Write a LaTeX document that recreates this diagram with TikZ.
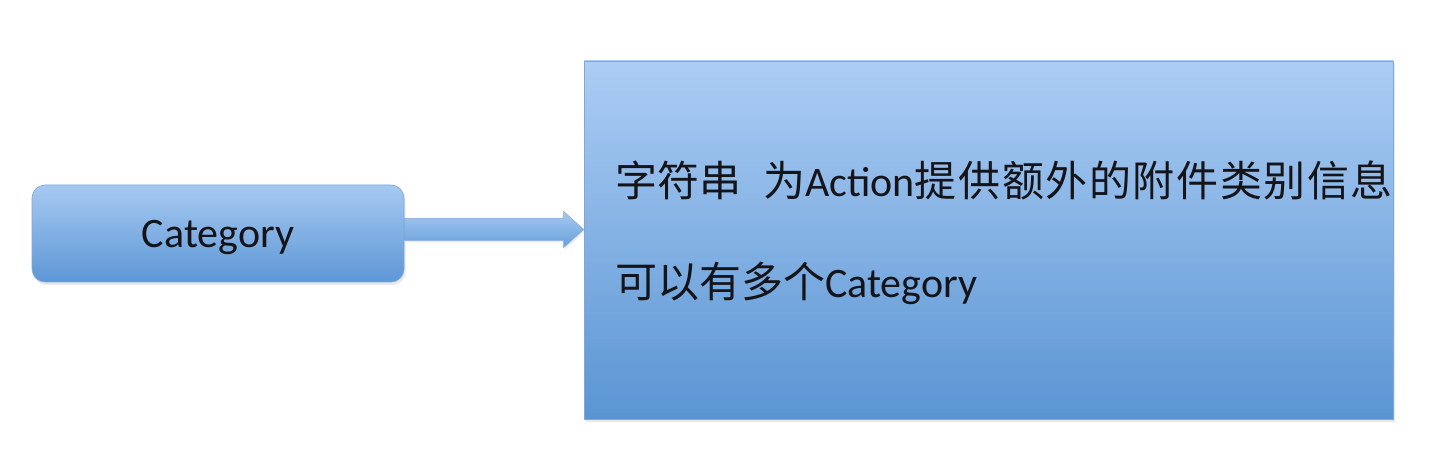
\documentclass[tikz,border=0pt]{standalone}
\usepackage{fontspec}
\setmainfont{Carlito}
\newfontfamily\cjk{Noto Sans CJK SC}
\usetikzlibrary{calc,shadows}
\definecolor{boxtop}{RGB}{172,205,244}
\definecolor{boxbot}{RGB}{90,149,211}
\definecolor{smalltop}{RGB}{166,201,241}
\definecolor{smallbot}{RGB}{93,151,214}
\definecolor{arrtop}{RGB}{166,201,241}
\definecolor{arrbot}{RGB}{104,159,218}
\definecolor{edgecol}{RGB}{125,168,220}
\definecolor{txt}{RGB}{20,20,25}
\tikzset{
  boxshadow/.style={drop shadow={opacity=0.18, shadow xshift=1.5pt, shadow yshift=-3pt}},
  catbox/.style={rectangle, rounded corners=13pt, top color=smalltop, bottom color=smallbot,
    draw=edgecol, line width=0.6pt, boxshadow, minimum width=372pt, minimum height=97pt,
    inner sep=0pt, text=txt, font=\fontsize{42}{50}\selectfont, text depth=0pt},
  infobox/.style={rectangle, top color=boxtop, bottom color=boxbot,
    draw=edgecol, line width=0.6pt, boxshadow, minimum width=809pt, minimum height=358pt, inner sep=0pt},
  infotext/.style={anchor=base west, inner sep=0pt, text=txt, font=\fontsize{42}{50}\selectfont},
  blockarrow/.style={top color=arrtop, bottom color=arrbot, draw=edgecol, line width=0.5pt,
    drop shadow={opacity=0.15, shadow xshift=1pt, shadow yshift=-2pt}}
}
\newcommand{\cj}[1]{{\cjk #1}}
\newcommand{\gk}{\kern1.6pt}
\begin{document}
\begin{tikzpicture}[x=1pt,y=-1pt]
\useasboundingbox[fill=white] (0,0) rectangle (1438,470);
\node[catbox] (cat) at (218,233.5) {Category};
\node[infobox] (info) at (988.5,240) {};
\node[infotext] (line1) at (615,197) {\cj{字符串}\hspace{22pt}\cj{为}Action\cj{提\gk 供\gk 额\gk 外\gk 的\gk 附\gk 件\gk 类\gk 别\gk 信\gk 息}};
\node[infotext] (line2) at (615,298) {\cj{可以有多个}Category};
% block arrow from cat to info
\coordinate (as) at ($(cat.east)+(0.3,-4)$);
\coordinate (ae) at ($(info.west)!(as)!(info.north west)$);
\path[blockarrow]
  ($(as)+(0,-11)$) -- ($(ae)+(-20,-11)$) -- ($(ae)+(-20,-18)$) -- (ae)
  -- ($(ae)+(-20,18)$) -- ($(ae)+(-20,11)$) -- ($(as)+(0,11)$) -- cycle;
\end{tikzpicture}
\end{document}
